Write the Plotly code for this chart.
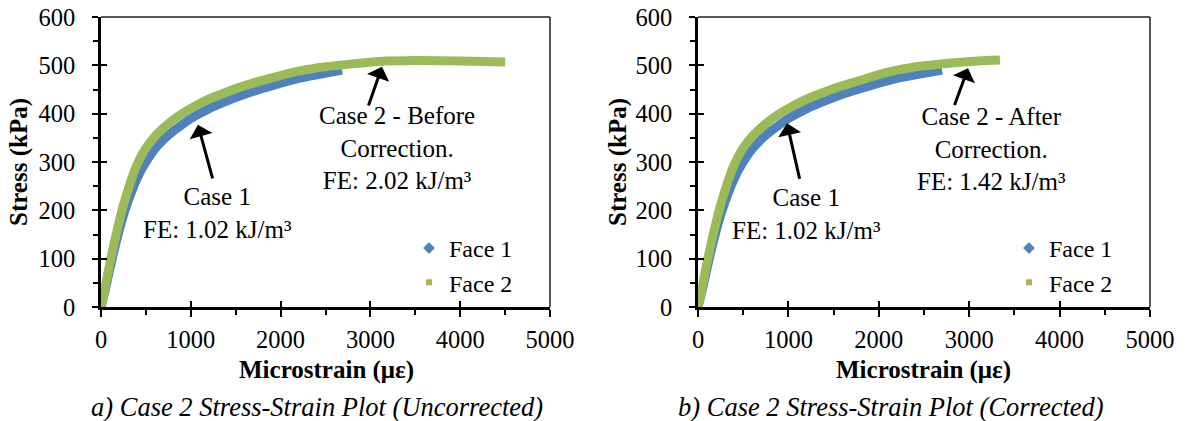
import plotly.graph_objects as go

# ---- data ----
face1_strain_a = [0, 50, 100, 150, 200, 250, 300, 350, 400, 450, 500, 600, 700, 800, 900, 1000,
                  1200, 1400, 1600, 1800, 2000, 2200, 2450, 2684]
face1_stress_a = [0, 38, 80, 120, 157, 190, 218, 243, 265, 284, 300, 327, 347, 363, 377, 390,
                  410, 426, 440, 452, 463, 473, 482, 490]
face2_strain_a = [0, 50, 100, 150, 200, 250, 300, 350, 400, 450, 500, 600, 700, 800, 900, 1000,
                  1200, 1400, 1600, 1800, 2000, 2200, 2500, 2800, 3100, 3500, 4000, 4500]
face2_stress_a = [0, 45, 92, 135, 175, 211, 242, 270, 294, 313, 329, 353, 371, 387, 400, 411,
                  430, 445, 458, 469, 479, 488, 497, 503, 508, 510, 509, 507]

face1_strain_b = [0, 50, 100, 150, 200, 250, 300, 350, 400, 450, 500, 600, 700, 800, 900, 1000,
                  1200, 1400, 1600, 1800, 2000, 2200, 2450, 2700]
face1_stress_b = [0, 38, 80, 120, 157, 190, 218, 243, 265, 284, 300, 327, 347, 363, 377, 390,
                  410, 426, 440, 452, 463, 473, 482, 490]
face2_strain_b = [0, 50, 100, 150, 200, 250, 300, 350, 400, 450, 500, 600, 700, 800, 900, 1000,
                  1200, 1400, 1600, 1800, 2000, 2200, 2500, 2800, 3100, 3340]
face2_stress_b = [0, 45, 92, 135, 175, 211, 242, 270, 294, 313, 329, 353, 371, 387, 400, 411,
                  430, 445, 458, 469, 481, 490, 499, 505, 509, 511]

series_names = ["Face 1", "Face 2"]
x_ticks = [0, 1000, 2000, 3000, 4000, 5000]
y_ticks = [0, 100, 200, 300, 400, 500, 600]

BLUE = "#4F81BD"
GREEN = "#9BBB59"
FONT = "Liberation Serif"

fig = go.Figure()

def add_panel(xa, ya, s1x, s1y, s2x, s2y, legend):
    fig.add_trace(go.Scatter(x=s1x, y=s1y, mode="lines",
                             line=dict(color=BLUE, width=9, shape="spline", smoothing=0.6),
                             xaxis=xa, yaxis=ya, showlegend=False, hoverinfo="skip"))
    fig.add_trace(go.Scatter(x=s2x, y=s2y, mode="lines",
                             line=dict(color=GREEN, width=9, shape="spline", smoothing=0.6),
                             xaxis=xa, yaxis=ya, showlegend=False, hoverinfo="skip"))
    # legend entries (markers)
    fig.add_trace(go.Scatter(x=[None], y=[None], mode="markers", name=series_names[0],
                             marker=dict(symbol="diamond", color=BLUE, size=9),
                             xaxis=xa, yaxis=ya, legend=legend))
    fig.add_trace(go.Scatter(x=[None], y=[None], mode="markers", name=series_names[1],
                             marker=dict(symbol="square", color=GREEN, size=6),
                             xaxis=xa, yaxis=ya, legend=legend))

add_panel("x", "y", face1_strain_a, face1_stress_a, face2_strain_a, face2_stress_a, "legend")
add_panel("x2", "y2", face1_strain_b, face1_stress_b, face2_strain_b, face2_stress_b, "legend2")

# dummy traces for the overlay (inside tick) axes
fig.add_trace(go.Scatter(x=[None], y=[None], xaxis="x3", yaxis="y3", showlegend=False, hoverinfo="skip"))
fig.add_trace(go.Scatter(x=[None], y=[None], xaxis="x4", yaxis="y4", showlegend=False, hoverinfo="skip"))

W, H = 1187, 421
dom_a = [101 / W, 550 / W]
dom_b = [698 / W, 1150 / W]
ydom = [1 - 307 / H, 1 - 17 / H]

tickfont = dict(family=FONT, size=24.5, color="black")

def xax(domain, anchor):
    return dict(domain=domain, anchor=anchor, range=[0, 5000], tickvals=x_ticks,
                ticks="outside", ticklen=7, tickwidth=2, tickcolor="black",
                minor=dict(tickvals=[500, 1500, 2500, 3500, 4500], ticks="outside", ticklen=5,
                           tickwidth=2, tickcolor="black", showgrid=False),
                showline=True, linewidth=2.5, linecolor="black", showgrid=False, zeroline=False,
                tickfont=tickfont, ticklabelstandoff=2, fixedrange=True)

def yax(domain, anchor):
    return dict(domain=domain, anchor=anchor, range=[0, 600], tickvals=y_ticks,
                ticks="outside", ticklen=6, tickwidth=2, tickcolor="black",
                minor=dict(tickvals=[50, 150, 250, 350, 450, 550], ticks="outside", ticklen=5,
                           tickwidth=2, tickcolor="black", showgrid=False),
                showline=True, linewidth=2.5, linecolor="black", showgrid=False, zeroline=False,
                tickfont=tickfont, ticklabelstandoff=12, fixedrange=True)

def xin(over, anchor):
    return dict(overlaying=over, anchor=anchor, range=[0, 5000], tickvals=x_ticks,
                ticks="inside", ticklen=6, tickwidth=2, tickcolor="black",
                showticklabels=False, showline=False, showgrid=False, zeroline=False, side="bottom")

def yin(over, anchor):
    return dict(overlaying=over, anchor=anchor, range=[0, 600], tickvals=y_ticks,
                ticks="inside", ticklen=6, tickwidth=2, tickcolor="black",
                showticklabels=False, showline=False, showgrid=False, zeroline=False, side="left")

ann = []
def text(x, y, t, xref, yref, size=25, **kw):
    ann.append(dict(x=x, y=y, xref=xref, yref=yref, text=t, showarrow=False,
                    xanchor="center", yanchor="middle",
                    font=dict(family=FONT, size=size, color="black"), **kw))

def arrow(xh, yh, xt, yt, xr, yr):
    ann.append(dict(x=xh, y=yh, ax=xt, ay=yt, xref=xr, yref=yr, axref=xr, ayref=yr,
                    text="", showarrow=True, arrowhead=1, arrowsize=1.3, arrowwidth=3,
                    arrowcolor="black"))

# panel a annotations
arrow(1080, 377, 1247, 263, "x", "y")
text(1292, 194, "Case 1<br>FE: 1.02 kJ/m³", "x", "y")
arrow(3129, 497, 2973, 414, "x", "y")
text(3296, 328, "Case 2 - Before<br>Correction.<br>FE: 2.02 kJ/m³", "x", "y")
# panel b annotations
arrow(985, 380, 1128, 262, "x2", "y2")
text(1195, 193, "Case 1<br>FE: 1.02 kJ/m³", "x2", "y2")
arrow(2987, 494, 2832, 415, "x2", "y2")
text(3252, 327, "Case 2 - After<br>Correction.<br>FE: 1.42 kJ/m³", "x2", "y2")

# axis titles & captions
for cx in (19, 618):
    text(cx / W, 1 - 162 / H, "<b>Stress (kPa)</b>", "paper", "paper", textangle=-90)
for cx in (326, 923):
    text(cx / W, 1 - 370 / H, "<b>Microstrain (με)</b>", "paper", "paper")
text(317 / W, 1 - 407 / H, "<i>a) Case 2 Stress-Strain Plot (Uncorrected)</i>", "paper", "paper", size=26.5)
text(891 / W, 1 - 407 / H, "<i>b) Case 2 Stress-Strain Plot (Corrected)</i>", "paper", "paper", size=26.5)

shapes = []
for xr, yr in (("x domain", "y domain"), ("x2 domain", "y2 domain")):
    shapes.append(dict(type="line", xref=xr, yref=yr, x0=0, x1=1, y0=1, y1=1,
                       line=dict(color="#202020", width=1.5)))
    shapes.append(dict(type="line", xref=xr, yref=yr, x0=1, x1=1, y0=0, y1=1,
                       line=dict(color="#202020", width=1.5)))

legfont = dict(family=FONT, size=24, color="black")
fig.update_layout(
    width=W, height=H, margin=dict(l=0, r=0, t=0, b=0, autoexpand=False),
    paper_bgcolor="white", plot_bgcolor="white",
    xaxis=xax(dom_a, "y"), yaxis=yax(ydom, "x"),
    xaxis2=xax(dom_b, "y2"), yaxis2=yax(ydom, "x2"),
    xaxis3=xin("x", "y"), yaxis3=yin("y", "x"),
    xaxis4=xin("x2", "y2"), yaxis4=yin("y2", "x2"),
    legend=dict(x=409 / W, y=1 - 226 / H, xanchor="left", yanchor="top", font=legfont,
                bgcolor="rgba(0,0,0,0)"),
    legend2=dict(x=1009 / W, y=1 - 226 / H, xanchor="left", yanchor="top", font=legfont,
                 bgcolor="rgba(0,0,0,0)"),
    annotations=ann, shapes=shapes, showlegend=True,
)

fig.write_html("out.html")
